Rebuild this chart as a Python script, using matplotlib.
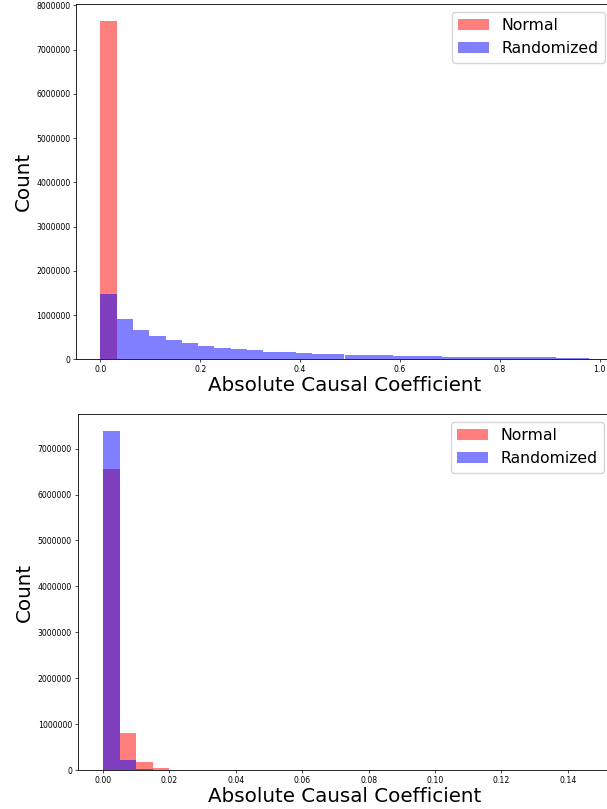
import numpy as np
import matplotlib
matplotlib.use("Agg")
import matplotlib.pyplot as plt

# top panel: 30 bins between 0 and top_max
top_max = 0.978
top_normal = [7640000] + [0] * 29
top_random = [1485000, 903000, 668000, 526000, 436000, 360000, 305000, 265000,
              230000, 200000, 175000, 158000, 140000, 125000, 113000, 103000,
              95000, 87000, 80000, 74000, 68000, 63000, 58000, 54000, 50000,
              47000, 44000, 41000, 38000, 35000]

# bottom panel: 30 bins between 0 and bot_max
bot_max = 0.15
bot_normal = [6565000, 822000, 174000, 50000, 12000, 10000] + [0] * 24
bot_random = [7376000, 217000, 20000, 4000] + [0] * 26

labels = ["Normal", "Randomized"]

plt.rcParams["xtick.labelsize"] = 5.6
plt.rcParams["ytick.labelsize"] = 5.6
plt.rcParams["xtick.major.size"] = 2.0
plt.rcParams["ytick.major.size"] = 2.0
plt.rcParams["xtick.major.pad"] = 2.0
plt.rcParams["ytick.major.pad"] = 2.0
plt.rcParams["xtick.major.width"] = 0.5
plt.rcParams["ytick.major.width"] = 0.5
plt.rcParams["axes.linewidth"] = 0.6


def draw(ax, max_x, normal, random):
    edges = np.linspace(0, max_x, len(normal) + 1)
    mids = edges[:-1]
    ax.hist(mids, bins=edges, weights=normal, color="red", alpha=0.5, label=labels[0])
    ax.hist(mids, bins=edges, weights=random, color="blue", alpha=0.5, label=labels[1])
    ax.ticklabel_format(style="plain", axis="y", useOffset=False)
    ax.set_xlabel("Absolute Causal Coefficient", fontsize=14.3, labelpad=1.5)
    ax.set_ylabel("Count", fontsize=14.3, labelpad=2.5)
    ax.legend(loc="upper right", fontsize=11.3)


fig = plt.figure(figsize=(6.07, 8.09), dpi=100)

# right edges run slightly off the image as in the reference
ax1 = fig.add_axes([76 / 607, 1 - 359.3 / 809, (613 - 76) / 607, (359.3 - 4.3) / 809])
draw(ax1, top_max, top_normal, top_random)

ax2 = fig.add_axes([77.5 / 607, 1 - 770.3 / 809, (612 - 77.5) / 607, (770.3 - 414.3) / 809])
draw(ax2, bot_max, bot_normal, bot_random)
ax2.set_xlim(-0.0077, 0.1533)

fig.savefig("out.png", dpi=100)
